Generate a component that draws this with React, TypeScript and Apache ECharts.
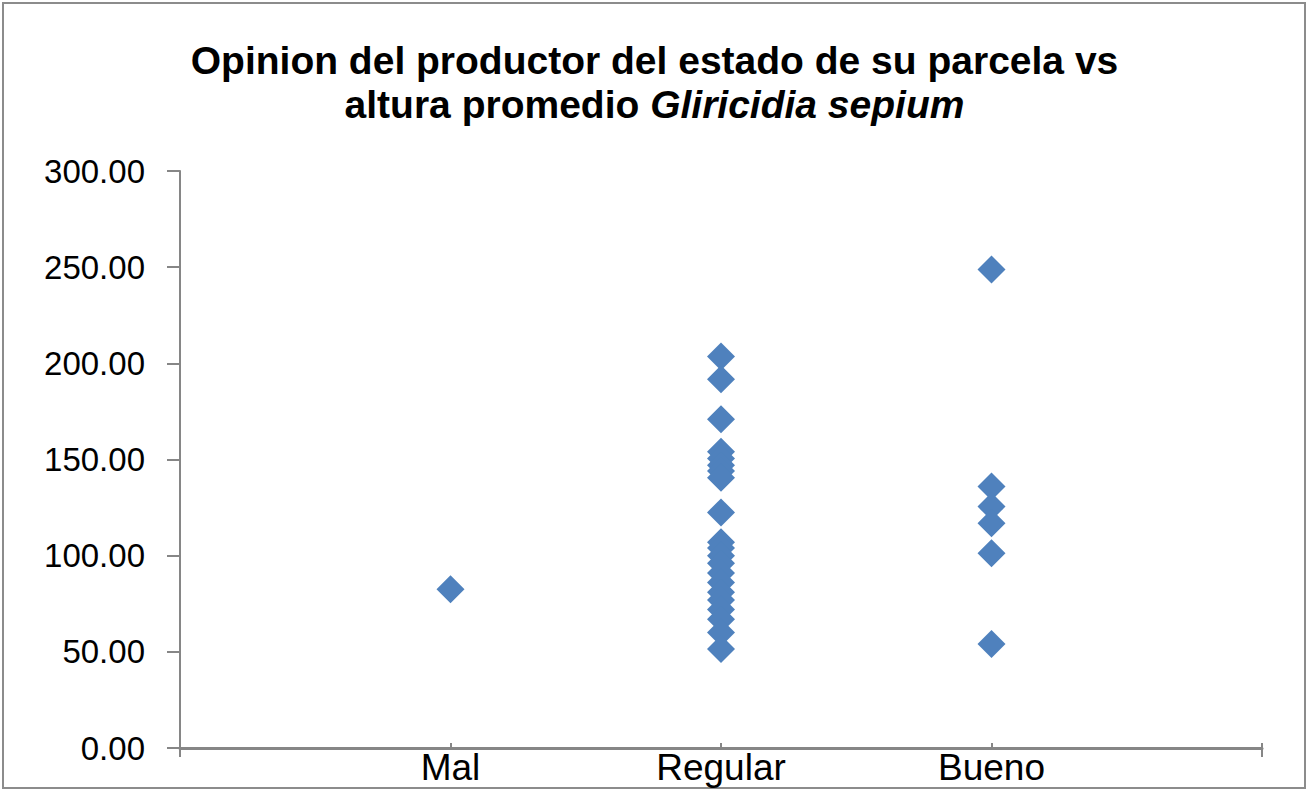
import React, { useEffect, useRef } from "react";
import * as echarts from "echarts";

// Opinion categories placed at x = 1, 2, 3 on the horizontal axis
const categories = ["Mal", "Regular", "Bueno"];

// Average height of Gliricidia sepium per plot, grouped by producer opinion
const malValues = [82.5];
const regularValues = [
  203.5, 191.7, 170.9, 154, 150.5, 147, 144, 140.5, 122.5, 107, 104, 100, 96,
  91, 86, 81, 77, 72, 67, 60, 51.5,
];
const buenoValues = [248.8, 135.9, 125.5, 116.8, 101.2, 54.1];

const yTicks = { min: 0, max: 300, interval: 50 };

const groups = [malValues, regularValues, buenoValues];

export default function App() {
  const ref = useRef<HTMLDivElement>(null);

  useEffect(() => {
    if (!ref.current) return;
    const chart = echarts.init(ref.current, null, { renderer: "svg" });

    const points: number[][] = [];
    groups.forEach((vals, i) => vals.forEach((v) => points.push([i + 1, v])));

    const axisGray = "#868686";
    const font = "'Liberation Sans', Arial, sans-serif";

    chart.setOption({
      animation: false,
      backgroundColor: "#ffffff",
      title: {
        left: "center",
        top: 33,
        text:
          "{b|Opinion del productor del estado de su parcela vs}\n{b|altura promedio }{i|Gliricidia sepium}",
        textStyle: {
          rich: {
            b: {
              fontFamily: font,
              fontWeight: "bold",
              fontSize: 39,
              lineHeight: 44,
              color: "#000",
            },
            i: {
              fontFamily: font,
              fontWeight: "bold",
              fontStyle: "italic",
              fontSize: 39,
              lineHeight: 44,
              color: "#000",
            },
          },
        },
      },
      graphic: [
        {
          type: "rect",
          shape: { x: 3, y: 3, width: 1302, height: 785 },
          style: { fill: "none", stroke: "#8c8c8c", lineWidth: 2 },
          silent: true,
        },
      ],
      grid: { left: 180, right: 47, top: 171, bottom: 43, containLabel: false },
      xAxis: [
        {
          type: "value",
          position: "bottom",
          min: 0,
          max: 4,
          interval: 1,
          axisLine: { show: true, lineStyle: { color: axisGray, width: 3 } },
          axisTick: { show: true, inside: true, length: 5, lineStyle: { color: axisGray, width: 2 } },
          splitLine: { show: false },
          axisLabel: {
            margin: 1,
            fontFamily: font,
            fontSize: 37,
            color: "#000",
            formatter: (v: number) => categories[v - 1] ?? "",
          },
        },
        {
          type: "value",
          position: "bottom",
          min: 0,
          max: 4,
          interval: 4,
          axisLine: { show: false },
          axisTick: { show: true, length: 9, lineStyle: { color: axisGray, width: 2 } },
          splitLine: { show: false },
          axisLabel: { show: false },
        },
      ],
      yAxis: {
        type: "value",
        min: yTicks.min,
        max: yTicks.max,
        interval: yTicks.interval,
        axisLine: { show: true, lineStyle: { color: axisGray, width: 2 } },
        axisTick: { show: true, length: 13, lineStyle: { color: axisGray, width: 2 } },
        splitLine: { show: false },
        axisLabel: {
          margin: 35,
          fontFamily: font,
          fontSize: 33,
          color: "#000",
          formatter: (v: number) => v.toFixed(2),
        },
      },
      series: [
        {
          type: "scatter",
          xAxisIndex: 0,
          symbol: "diamond",
          symbolSize: 28,
          itemStyle: { color: "#4F81BD", opacity: 1 },
          data: points,
        },
      ],
    });

    return () => chart.dispose();
  }, []);

  return (
    <div
      ref={ref}
      style={{ position: "fixed", left: 0, top: 0, width: 1309, height: 791 }}
    />
  );
}
